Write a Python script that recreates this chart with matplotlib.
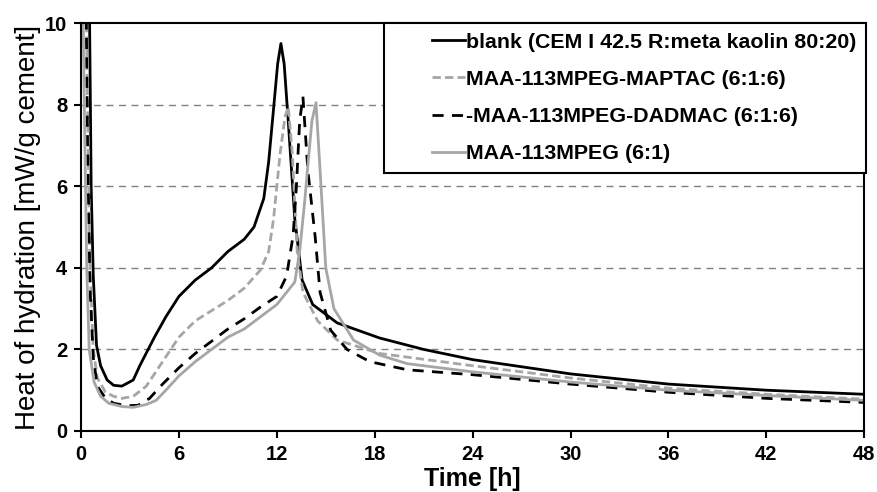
import matplotlib
matplotlib.use('Agg')
import matplotlib.pyplot as plt
from matplotlib.legend_handler import HandlerLine2D

plt.rcParams['font.family'] = ['Liberation Sans', 'DejaVu Sans']

# data (time in h, heat flow in mW/g cement)
blank_t = [0.5, 0.55, 0.62, 0.75, 0.95, 1.2, 1.6, 2.0, 2.5, 3.2, 3.6, 4.5, 5.2, 6, 7, 8, 9, 10,
           10.6, 11.2, 11.5, 11.8, 12.05, 12.25, 12.45, 12.7, 13.1, 13.55, 14.2, 15.7, 18.3, 21,
           24, 30, 36, 42, 48]
blank_q = [11, 9, 6, 3.8, 2.1, 1.6, 1.25, 1.12, 1.1, 1.25, 1.6, 2.3, 2.8, 3.3, 3.7, 4.0, 4.4, 4.7,
           5.0, 5.7, 6.6, 7.9, 9.0, 9.5, 9.0, 7.6, 5.2, 3.7, 3.1, 2.65, 2.28, 2.0,
           1.75, 1.4, 1.15, 1.0, 0.9]

maptac_t = [0.3, 0.4, 0.55, 0.75, 1.0, 1.5, 2.0, 2.5, 3.2, 4.0, 5.0, 6, 7, 8, 9, 10, 11, 11.5,
            11.8, 12.2, 12.5, 12.7, 12.95, 13.25, 13.6, 14.5, 15.7, 18.3, 24, 30, 36, 42, 48]
maptac_q = [11, 8, 4, 2.0, 1.3, 0.95, 0.85, 0.8, 0.85, 1.1, 1.7, 2.3, 2.7, 2.95, 3.2, 3.5, 3.95, 4.4,
            5.2, 6.8, 7.7, 7.95, 6.8, 4.4, 3.4, 2.7, 2.23, 1.9, 1.6, 1.3, 1.05, 0.9, 0.78]

dadmac_t = [0.3, 0.4, 0.55, 0.75, 1.0, 1.5, 2.0, 2.8, 3.5, 4.2, 5, 6, 7, 8, 9, 10, 11, 12, 12.6,
            13.0, 13.2, 13.4, 13.6, 13.9, 14.35, 14.65, 15.3, 16.3, 17.7, 20, 24, 30, 36, 42, 48]
dadmac_q = [11, 7, 3.5, 1.8, 1.1, 0.8, 0.68, 0.62, 0.63, 0.8, 1.15, 1.55, 1.9, 2.2, 2.5, 2.75, 3.04,
            3.3, 3.8, 4.8, 6.0, 7.6, 8.2, 6.4, 4.76, 3.4, 2.47, 2.0, 1.7, 1.5, 1.38, 1.15, 0.95,
            0.8, 0.7]

mpeg_t = [0.1, 0.2, 0.35, 0.5, 0.8, 1.2, 1.7, 2.5, 3.2, 4.0, 4.6, 5.2, 6, 7, 8, 9, 10, 11, 12,
          12.6, 13.1, 13.4, 13.7, 13.9, 14.15, 14.4, 14.65, 15.0, 15.5, 16.7, 18.3, 20, 24, 30,
          36, 42, 48]
mpeg_q = [11, 8, 4, 2.0, 1.2, 0.85, 0.68, 0.6, 0.58, 0.65, 0.75, 1.0, 1.35, 1.7, 2.0, 2.3, 2.5,
          2.8, 3.1, 3.4, 3.65, 4.4, 5.6, 6.5, 7.6, 8.05, 6.4, 4.0, 3.0, 2.23, 1.86, 1.65, 1.45,
          1.2, 1.0, 0.87, 0.75]

labels = ['blank (CEM I 42.5 R:meta kaolin 80:20)',
          'MAA-113MPEG-MAPTAC (6:1:6)',
          '-MAA-113MPEG-DADMAC (6:1:6)',
          'MAA-113MPEG (6:1)']

grey = '#a6a6a6'


class ShortLine(HandlerLine2D):
    # draw the legend line only in the right part of the handle box
    def create_artists(self, legend, orig_handle, xdescent, ydescent, width, height,
                       fontsize, trans):
        w = width * 0.46
        return super().create_artists(legend, orig_handle, xdescent - (width - w), ydescent,
                                      w, height, fontsize, trans)


fig = plt.figure(figsize=(8.77, 4.92), dpi=100)
ax = fig.add_axes([0.0924, 0.124, 0.893, 0.829])

ax.plot(blank_t, blank_q, color='black', lw=2.0, label=labels[0])
ax.plot(maptac_t, maptac_q, color=grey, lw=2.0, dashes=(3, 1.5), label=labels[1])
ax.plot(dadmac_t, dadmac_q, color='black', lw=2.0, dashes=(4, 3), label=labels[2])
ax.plot(mpeg_t, mpeg_q, color=grey, lw=2.0, label=labels[3])

ax.set_xlim(0, 48)
ax.set_ylim(0, 10)
ax.set_xticks(range(0, 49, 6))
ax.set_yticks(range(0, 11, 2))
for y in [2, 4, 6, 8]:
    ax.axhline(y, color='#808080', lw=1.0, dashes=(5, 4), zorder=0)

for s in ax.spines.values():
    s.set_linewidth(1.5)
ax.tick_params(direction='out', length=5, width=1.5, labelsize=14.5, pad=5)
for lab in ax.get_xticklabels() + ax.get_yticklabels():
    lab.set_fontweight('bold')

ax.set_xlabel('Time [h]', fontsize=18, fontweight='bold', labelpad=2)
ax.set_ylabel('Heat of hydration [mW/g cement]', fontsize=20, labelpad=3)

leg = ax.legend(loc='upper right', bbox_to_anchor=(1.002, 1.0), borderaxespad=0,
                prop={'weight': 'bold', 'size': 15.4}, handlelength=3.33,
                handletextpad=0.05, labelspacing=0.85, fancybox=False, framealpha=1,
                borderpad=0.45, handler_map={plt.Line2D: ShortLine()})
leg.get_frame().set_edgecolor('black')
leg.get_frame().set_linewidth(1.5)

fig.savefig('out.png', dpi=100)
